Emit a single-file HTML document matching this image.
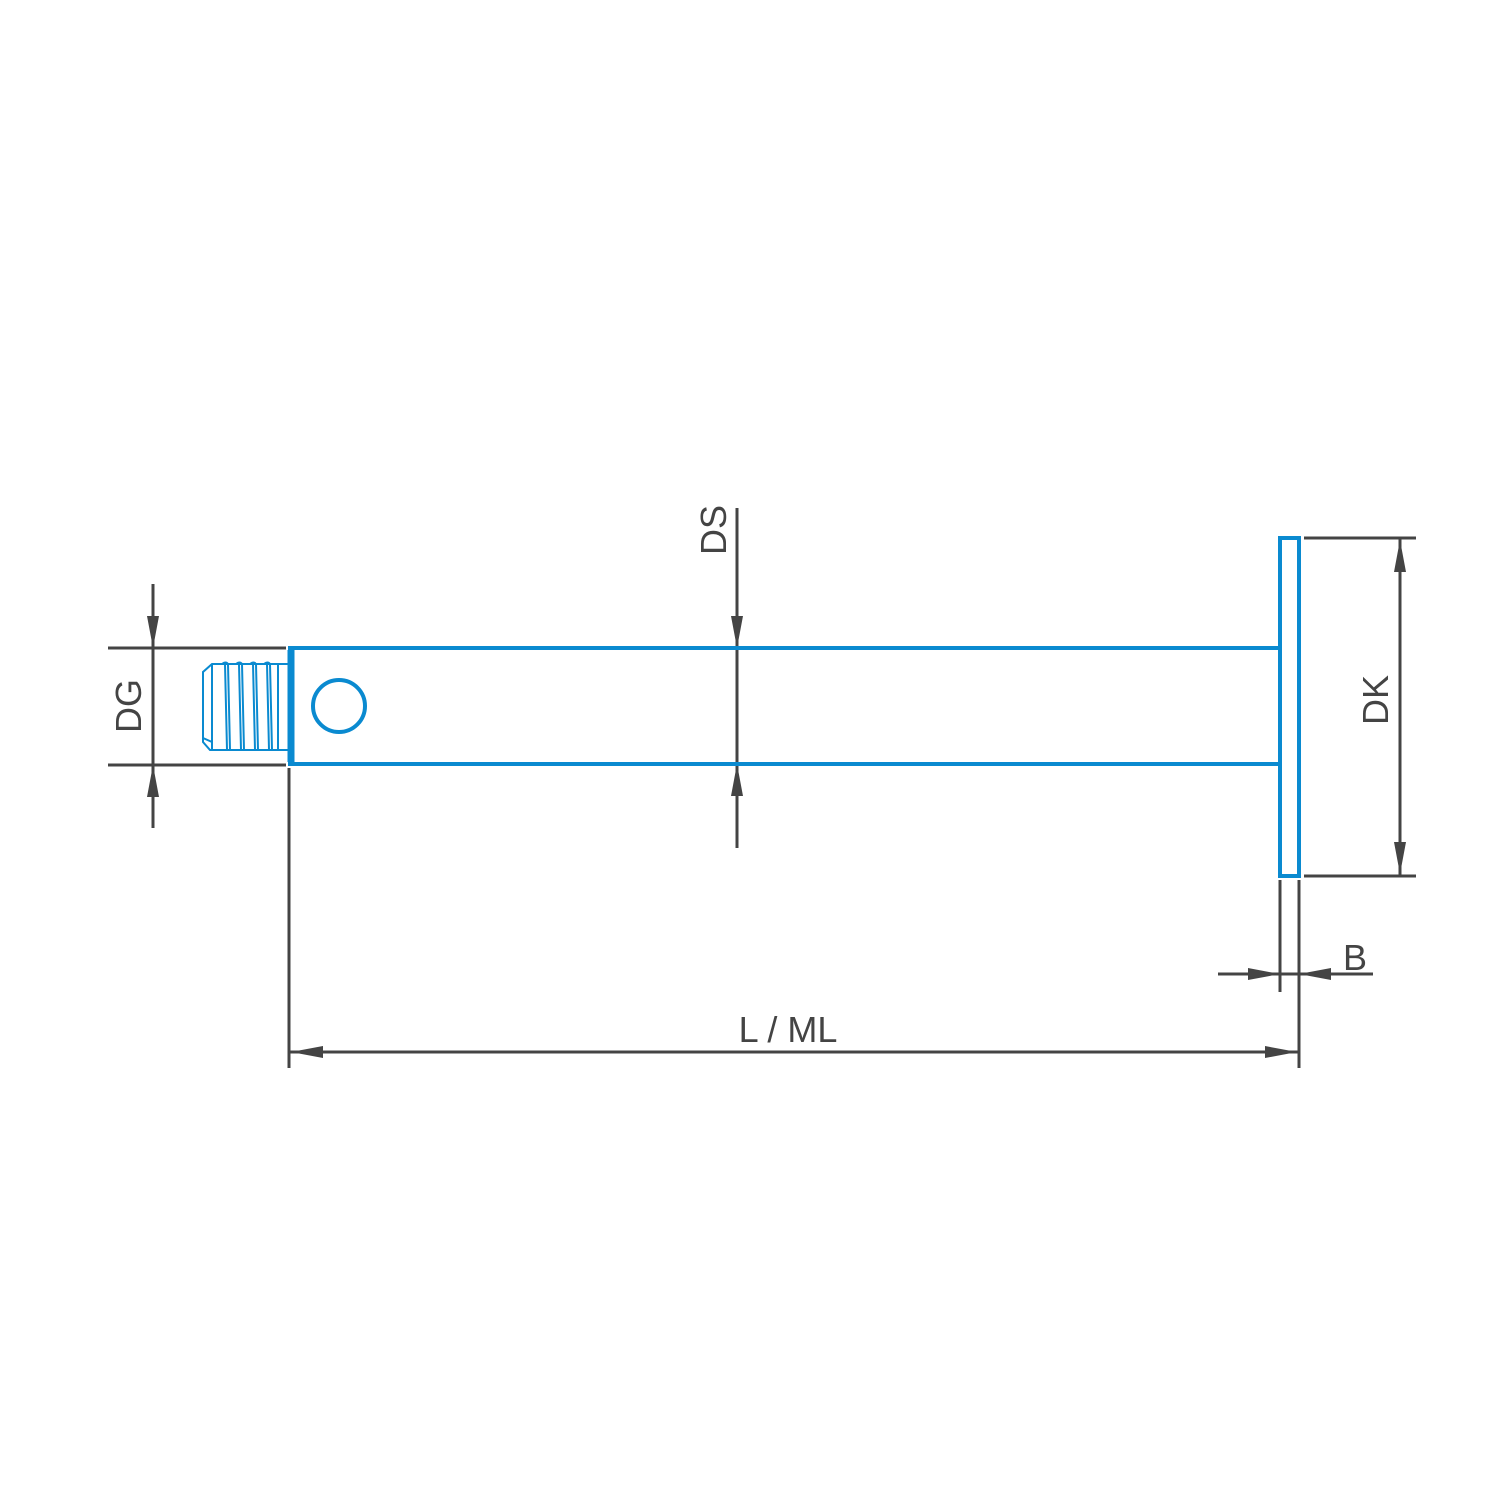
<!DOCTYPE html>
<html><head><meta charset="utf-8"><style>html,body{margin:0;padding:0;background:#fff}</style></head><body>
<svg width="1501" height="1501" viewBox="0 0 1501 1501" xmlns="http://www.w3.org/2000/svg">
<rect width="1501" height="1501" fill="#fff"/>
<g stroke="#444" stroke-width="3" fill="none">
<!-- DG -->
<line x1="108" y1="648" x2="286" y2="648"/>
<line x1="108" y1="765" x2="286" y2="765"/>
<line x1="153" y1="584" x2="153" y2="828"/>
<!-- DS -->
<line x1="737" y1="508" x2="737" y2="848"/>
<!-- DK -->
<line x1="1304" y1="538" x2="1416" y2="538"/>
<line x1="1304" y1="876" x2="1416" y2="876"/>
<line x1="1400" y1="538" x2="1400" y2="876"/>
<!-- B -->
<line x1="1280" y1="880" x2="1280" y2="992"/>
<line x1="1299" y1="880" x2="1299" y2="1068"/>
<line x1="1218" y1="974" x2="1373" y2="974"/>
<!-- L -->
<line x1="289" y1="768" x2="289" y2="1068"/>
<line x1="289" y1="1052" x2="1299" y2="1052"/>
</g>
<g fill="#444">
<polygon points="153,648 147,616 159,616"/>
<polygon points="153,765 147,797 159,797"/>
<polygon points="737,648 731,616 743,616"/>
<polygon points="737,764 731,796 743,796"/>
<polygon points="1400,540 1394,572 1406,572"/>
<polygon points="1400,874 1394,842 1406,842"/>
<polygon points="1280,974 1248,968 1248,980"/>
<polygon points="1299,974 1331,968 1331,980"/>
<polygon points="291,1052 323,1046 323,1058"/>
<polygon points="1297,1052 1265,1046 1265,1058"/>
</g>
<g stroke="#0a8ad0" fill="none">
<rect x="290" y="648" width="990" height="116" stroke-width="4"/>
<line x1="291" y1="650" x2="291" y2="762" stroke-width="7"/>
<rect x="1280" y="538" width="19" height="338" stroke-width="4" fill="#fff"/>
<circle cx="339" cy="706" r="26" stroke-width="4"/>
<g stroke-width="2">
<path d="M288,664 L212,664 L203,672 L203,742 L210,750 L288,750"/>
<line x1="212" y1="664" x2="212" y2="750"/>
<path d="M222,664 q4,-3 6,0 l2,86 M236,664 q4,-3 6,0 l2,86 M250,664 q4,-3 6,0 l2,86 M264,664 q4,-3 6,0 l2,86"/>
<path d="M225,664 l2,86 M239,664 l2,86 M253,664 l2,86 M267,664 l2,86"/>
<line x1="278" y1="664" x2="278" y2="750"/>
<line x1="203" y1="738" x2="212" y2="742"/>
</g>
</g>
<g fill="#444" font-family="'Liberation Sans',sans-serif" font-size="36">
<text transform="translate(141,706) rotate(-90)" text-anchor="middle">DG</text>
<text transform="translate(726,530) rotate(-90)" text-anchor="middle">DS</text>
<text transform="translate(1388,700) rotate(-90)" text-anchor="middle">DK</text>
<text x="1355" y="970" text-anchor="middle">B</text>
<text x="788" y="1042" text-anchor="middle">L / ML</text>
</g>
</svg>
</body></html>
